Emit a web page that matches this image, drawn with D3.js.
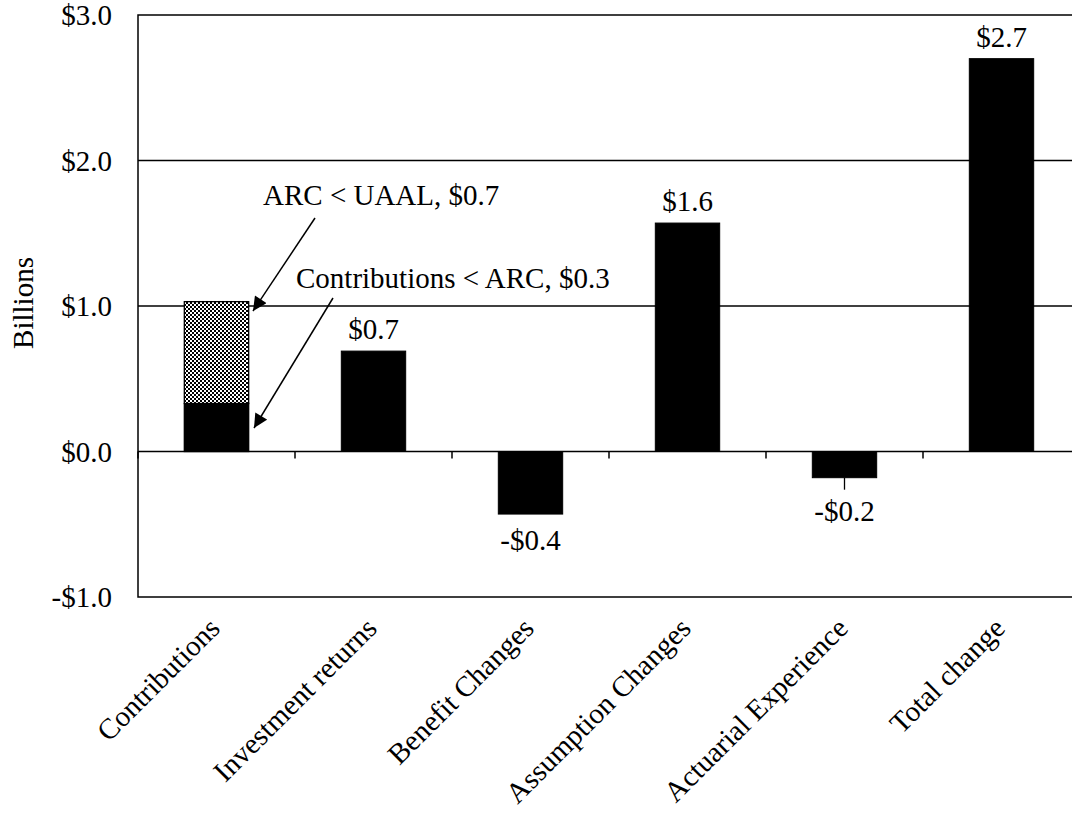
<!DOCTYPE html>
<html>
<head>
<meta charset="utf-8">
<script src="https://cdn.jsdelivr.net/npm/d3@7"></script>
<style>
  html, body { margin: 0; padding: 0; background: #fff; }
  svg { display: block; }
  text { font-family: "Liberation Serif", "Times New Roman", serif; fill: #000; }
</style>
</head>
<body>
<svg id="chart" width="1072" height="819"></svg>
<script>
// Sources of change in unfunded liability, in billions of dollars
const categories = ["Contributions", "Investment returns", "Benefit Changes",
                    "Assumption Changes", "Actuarial Experience", "Total change"];
const values = [0.33, 0.69, -0.43, 1.57, -0.18, 2.70];
// Contributions are split into two stacked pieces
const contributionParts = [
  { name: "Contributions < ARC", value: 0.33 },
  { name: "ARC < UAAL", value: 0.70 }
];
const yTicks = [-1, 0, 1, 2, 3];
const yAxisTitle = "Billions";

const money = v => (v < 0 ? "-" : "") + "$" + Math.abs(v).toFixed(1);
const FS = 29;

const svg = d3.select("#chart");
const plotLeft = 138, plotRight = 1080, plotTop = 15, plotBottom = 597;

const x = d3.scaleBand().domain(categories).range([plotLeft, plotRight])
  .paddingInner(0.59).paddingOuter(0.295);
const y = d3.scaleLinear().domain([-1, 3]).range([plotBottom, plotTop]);

// checkerboard fill for the upper contributions piece
const defs = svg.append("defs");
const pat = defs.append("pattern").attr("id", "checker")
  .attr("patternUnits", "userSpaceOnUse").attr("width", 4).attr("height", 4);
pat.append("rect").attr("width", 4).attr("height", 4).attr("fill", "#fff");
pat.append("rect").attr("width", 2).attr("height", 2).attr("fill", "#000");
pat.append("rect").attr("x", 2).attr("y", 2).attr("width", 2).attr("height", 2).attr("fill", "#000");
defs.append("marker").attr("id", "arrow")
  .attr("viewBox", "0 0 10 10").attr("refX", 10).attr("refY", 5)
  .attr("markerWidth", 15).attr("markerHeight", 14)
  .attr("markerUnits", "userSpaceOnUse")
  .attr("orient", "auto")
  .append("path").attr("d", "M0,0 L10,5 L0,10 Z").attr("fill", "#000");

// gridlines
svg.append("g").selectAll("line").data(yTicks.filter(t => t > 0 && t < 3)).join("line")
  .attr("x1", plotLeft).attr("x2", plotRight)
  .attr("y1", d => y(d)).attr("y2", d => y(d))
  .attr("stroke", "#000").attr("stroke-width", 1.3);

// plot frame
svg.append("path")
  .attr("d", `M${plotRight},${plotTop} L${plotLeft},${plotTop} L${plotLeft},${plotBottom} L${plotRight},${plotBottom}`)
  .attr("fill", "none").attr("stroke", "#000").attr("stroke-width", 1.5);

// bars (the first category is drawn as a stack)
const single = categories.map((c, i) => ({ c, v: values[i] })).slice(1);
svg.append("g").selectAll("rect").data(single).join("rect")
  .attr("x", d => x(d.c)).attr("width", x.bandwidth())
  .attr("y", d => y(Math.max(0, d.v)))
  .attr("height", d => Math.abs(y(d.v) - y(0)))
  .attr("fill", "#000").attr("stroke", "#000").attr("stroke-width", 1);

let base = 0;
const stack = contributionParts.map((p, i) => {
  const s = { name: p.name, y0: base, y1: base + p.value, i };
  base += p.value;
  return s;
});
svg.append("g").selectAll("rect").data(stack).join("rect")
  .attr("x", x(categories[0])).attr("width", x.bandwidth())
  .attr("y", d => y(d.y1)).attr("height", d => y(d.y0) - y(d.y1))
  .attr("fill", d => d.i === 0 ? "#000" : "url(#checker)")
  .attr("stroke", "#000").attr("stroke-width", 1.3);

// zero axis with tick marks at category boundaries
svg.append("line").attr("x1", plotLeft).attr("x2", plotRight)
  .attr("y1", y(0)).attr("y2", y(0)).attr("stroke", "#000").attr("stroke-width", 1.5);
const bounds = categories.map(c => x(c) - x.step() * x.paddingOuter());
svg.append("g").selectAll("line").data(bounds).join("line")
  .attr("x1", d => d).attr("x2", d => d)
  .attr("y1", y(0)).attr("y2", y(0) + 7)
  .attr("stroke", "#000").attr("stroke-width", 1.5);

// y tick labels
svg.append("g").selectAll("text").data(yTicks).join("text")
  .attr("x", 112).attr("y", d => y(d)).attr("dy", "0.35em")
  .attr("text-anchor", "end").attr("font-size", FS)
  .text(d => money(d));

svg.append("text")
  .attr("transform", "translate(33,303) rotate(-90)")
  .attr("text-anchor", "middle").attr("font-size", FS)
  .text(yAxisTitle);

// category labels
svg.append("g").selectAll("text").data(categories).join("text")
  .attr("transform", d => `translate(${x(d) + x.bandwidth() / 2 + 5},${plotBottom + 33}) rotate(-45)`)
  .attr("text-anchor", "end").attr("font-size", FS)
  .text(d => d);

// value labels
const labelled = single;
svg.append("g").selectAll("text").data(labelled).join("text")
  .attr("x", d => x(d.c) + x.bandwidth() / 2)
  .attr("y", d => d.v >= 0 ? y(d.v) - 12 : y(d.v) + (d.v > -0.3 ? 43 : 36))
  .attr("text-anchor", "middle").attr("font-size", FS)
  .text(d => money(d.v));
// short leader below the small negative bar
labelled.filter(d => d.v < 0 && d.v > -0.3).forEach(d => {
  const cx = x(d.c) + x.bandwidth() / 2;
  svg.append("line").attr("x1", cx).attr("x2", cx)
    .attr("y1", y(d.v)).attr("y2", y(d.v) + 12)
    .attr("stroke", "#000").attr("stroke-width", 1.3);
});

// annotations for the stacked contributions bar
const annot = [
  { text: `${contributionParts[1].name}, ${money(contributionParts[1].value)}`,
    tx: 263, ty: 205, from: [315, 218], to: [253, 311] },
  { text: `${contributionParts[0].name}, ${money(contributionParts[0].value)}`,
    tx: 296, ty: 288, from: [333, 298], to: [254, 428] }
];
annot.forEach(a => {
  svg.append("text").attr("x", a.tx).attr("y", a.ty).attr("font-size", FS).text(a.text);
  svg.append("line")
    .attr("x1", a.from[0]).attr("y1", a.from[1])
    .attr("x2", a.to[0]).attr("y2", a.to[1])
    .attr("stroke", "#000").attr("stroke-width", 1.5)
    .attr("marker-end", "url(#arrow)");
});
</script>
</body>
</html>
